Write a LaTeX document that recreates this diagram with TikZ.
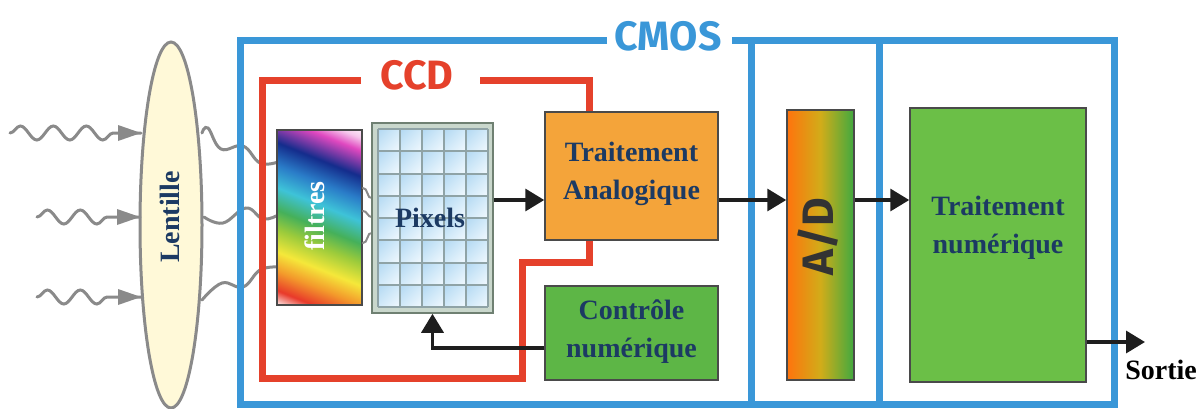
\documentclass[tikz,border=0pt]{standalone}
\usepackage{fontspec}
\setmainfont{Liberation Serif}
\newfontfamily\firafont{Fira Sans}
\usetikzlibrary{shapes.geometric,arrows.meta,decorations.pathmorphing,calc,shadings}
\definecolor{cmosblue}{HTML}{3A97D8}
\definecolor{ccdred}{HTML}{E5412B}
\definecolor{navy}{HTML}{1C3A63}
\definecolor{lensfill}{HTML}{FFF9D8}
\definecolor{wavegray}{HTML}{8A8A8A}
\definecolor{boxborder}{HTML}{4A4A4A}
\definecolor{taorange}{HTML}{F4A43A}
\definecolor{cngreen}{HTML}{5DB646}
\definecolor{tngreen}{HTML}{6BBF47}
\definecolor{arrowblack}{HTML}{1E1E1E}
\definecolor{pixframe}{HTML}{C9D7CC}
\definecolor{pixborder}{HTML}{6F8072}
\definecolor{pixgrid}{HTML}{8FA3A6}
\definecolor{celldark}{HTML}{B2D8F2}
\definecolor{cellmid}{HTML}{D2EAF9}
\definecolor{celllight}{HTML}{F2F9FE}
\definecolor{rbred}{HTML}{E8392A}
\definecolor{rborange}{HTML}{F39A2B}
\definecolor{rbyellow}{HTML}{F5E83A}
\definecolor{rbygreen}{HTML}{9CCB3B}
\definecolor{rbgreen}{HTML}{45B05A}
\definecolor{rbcyan}{HTML}{3EC3D8}
\definecolor{rbblue}{HTML}{2A7CC8}
\definecolor{rbdark}{HTML}{142C8C}
\definecolor{rbmag}{HTML}{E048C0}
\definecolor{rbpink}{HTML}{F6C8EC}
\pgfdeclareverticalshading{rainbowv}{100bp}{color(0bp)=(white); color(17bp)=(white); color(22bp)=(rbred); color(28bp)=(rborange); color(34bp)=(rbyellow); color(41bp)=(rbygreen); color(47bp)=(rbgreen); color(54bp)=(rbcyan); color(61bp)=(rbblue); color(68bp)=(rbdark); color(76bp)=(rbmag); color(80bp)=(rbpink); color(84bp)=(white); color(100bp)=(white)}
\begin{document}
\begin{tikzpicture}[x=1pt,y=-1pt,
  txt/.style={font=\fontsize{28}{38}\selectfont\bfseries, text=navy, align=center, inner sep=0pt},
  box/.style={draw=boxborder, line width=1.5pt, inner sep=0pt},
  arr/.style={draw=arrowblack, line width=3.5pt, -{Triangle[length=19pt,width=22pt]}},
  wavein/.style={draw=wavegray, line width=3pt, line cap=round, decorate,
    decoration={snake, amplitude=7pt, segment length=33pt, post length=22pt}},
  waveout/.style={draw=wavegray, line width=3pt, line cap=round},
  frameblue/.style={draw=cmosblue, line width=7pt},
  framered/.style={draw=ccdred, line width=7pt},
  cell/.style={upper left=celldark, lower right=celllight, upper right=cellmid, lower left=cellmid}
]
\useasboundingbox (0,0) rectangle (1204,408);

% incoming light waves
\coordinate (w1s) at (10,133);
\coordinate (w2s) at (37,217);
\coordinate (w3s) at (37,297);
\node[ellipse, draw=wavegray, line width=3pt, fill=lensfill, minimum width=62pt, minimum height=366pt, inner sep=0pt] (lens) at (171,225) {};
\coordinate (w1e) at (141,133);
\coordinate (w2e) at (140,217);
\coordinate (w3e) at (141,297);
\draw[wavein] (w1s) -- (w1e);
\draw[wavein] (w2s) -- (w2e);
\draw[wavein] (w3s) -- (w3e);
\fill[wavegray] (w1e) -- ++(-23,-8) -- ++(0,16) -- cycle;
\fill[wavegray] (w2e) -- ++(-23,-8) -- ++(0,16) -- cycle;
\fill[wavegray] (w3e) -- ++(-23,-8) -- ++(0,16) -- cycle;
\node[txt, rotate=90] (lenslbl) at (170,217) {Lentille};

% outgoing waves (under frames)
\draw[waveout] plot[smooth, tension=0.7] coordinates {(202,133) (208,128) (221,149) (243,146) (260,163) (278,162)};
\draw[waveout] plot[smooth, tension=0.7] coordinates {(204,217) (223,223) (246,208) (263,219) (278,215)};
\draw[waveout] plot[smooth, tension=0.7] coordinates {(202,300) (222,283) (243,287) (260,270) (278,267)};

% CMOS frame
\node[font=\firafont\bfseries\fontsize{41}{41}\selectfont, text=cmosblue, inner sep=0pt] (cmos) at (668,36) {CMOS};
\draw[frameblue] (607,40) -- (240,40) -- (240,404) -- (1114,404) -- (1114,40) -- (732,40);
\draw[frameblue] (751,40) -- (751,404);
\draw[frameblue] (879,40) -- (879,404);

% CCD frame
\node[font=\firafont\bfseries\fontsize{41}{41}\selectfont, text=ccdred, inner sep=0pt] (ccd) at (417,75) {CCD};
\draw[framered] (361,80) -- (262,80) -- (262,378) -- (522,378) -- (522,262) -- (589,262) -- (589,236);
\draw[framered] (480,80) -- (589,80) -- (589,116);

% filters
\node[box, shade, shading=rainbowv, shading angle=-22, minimum width=85pt, minimum height=175pt] (filt) at (319.5,217.5) {};
\node[txt, text=white, rotate=90] (filtlbl) at (315,216) {filtres};

% small waves filter -> pixels
\draw[waveout, line width=2pt] (filt.east |- 0,188) to[out=10,in=200] (372,198);
\draw[waveout, line width=2pt] (filt.east |- 0,211) to[out=10,in=190] (372,217);
\draw[waveout, line width=2pt] (filt.east |- 0,243) to[out=-10,in=160] (372,233);

% pixels
\node[draw=pixborder, fill=pixframe, line width=1.5pt, minimum width=121pt, minimum height=190pt, inner sep=0pt] (pix) at (432.5,218) {};
\foreach \i in {0,...,4}{
  \foreach \j in {0,...,7}{
    \shade[cell] ({378+22*\i},{129+22.25*\j}) rectangle ++(22,22.25);
  }
}
\foreach \i in {0,...,5}{ \draw[pixgrid, line width=2pt] ({378+22*\i},129) -- ({378+22*\i},307); }
\foreach \j in {0,...,8}{ \draw[pixgrid, line width=2pt] (378,{129+22.25*\j}) -- (488,{129+22.25*\j}); }
\node[txt] (pixlbl) at (430,218) {Pixels};

% processing boxes
\node[box, fill=taorange, minimum width=173pt, minimum height=128pt] (ta) at (631.5,176) {};
\node[txt] (talbl) at (631.5,174) {Traitement\\Analogique};
\node[box, fill=cngreen, minimum width=173pt, minimum height=94pt] (cn) at (631.5,333) {};
\node[txt] (cnlbl) at (631.5,332) {Contrôle\\numérique};
\node[box, left color=orange!85!red!95, right color=green!55!black!75, middle color=yellow!60!orange!80!black!90, minimum width=67pt, minimum height=270pt] (ad) at (820.5,245) {};
\node[font=\firafont\bfseries\fontsize{44}{44}\selectfont, text=black!80, rotate=90, inner sep=0pt] (adlbl) at (818,237) {A/D};
\node[box, fill=tngreen, minimum width=176pt, minimum height=274pt] (tn) at (998,245) {};
\node[txt] (tnlbl) at (998,228) {Traitement\\numérique};

% connectors
\coordinate (ay) at (0,200);
\draw[arr] (pix.east |- ay) -- (ta.west |- ay);
\draw[arr] (ta.east |- ay) -- (ad.west |- ay);
\draw[arr] (ad.east |- ay) -- (tn.west |- ay);
\coordinate (cy) at (0,348);
\draw[arr] (cn.west |- cy) -| (pix.south);
\coordinate (sortie) at (1145,342);
\draw[arr] (tn.east |- sortie) -- (sortie);
\node[font=\fontsize{28}{28}\selectfont\bfseries, inner sep=0pt] (sortielbl) at (1161,370) {Sortie};
\end{tikzpicture}
\end{document}
